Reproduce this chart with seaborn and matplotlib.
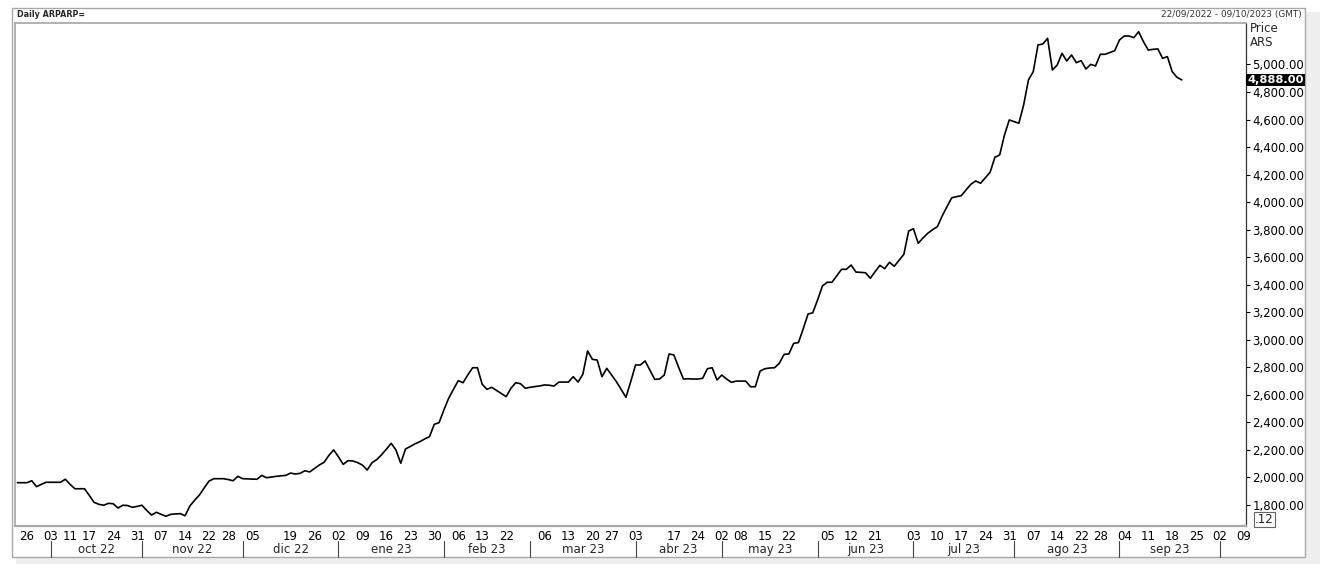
import numpy as np
import pandas as pd
import seaborn as sns
import matplotlib.pyplot as plt
from matplotlib.patches import Rectangle
from matplotlib.transforms import blended_transform_factory

# ARS price, one value per trading day starting 22/09/2022
prices = [
    1962, 1962, 1962, 1976, 1933, 1950, 1965, 1965, 1965, 1965,
    1987, 1950, 1918, 1918, 1918, 1870, 1819, 1805, 1798, 1812,
    1809, 1778, 1798, 1796, 1783, 1790, 1798, 1760, 1727, 1747,
    1732, 1718, 1732, 1735, 1737, 1722, 1793, 1835, 1873, 1925,
    1974, 1991, 1991, 1991, 1985, 1976, 2008, 1991, 1990, 1988,
    1987, 2015, 1998, 2003, 2008, 2012, 2015, 2032, 2025, 2030,
    2049, 2040, 2065, 2090, 2110, 2160, 2200, 2150, 2095, 2122,
    2120, 2108, 2090, 2054, 2107, 2130, 2165, 2205, 2248, 2200,
    2103, 2207, 2225, 2245, 2260, 2280, 2296, 2386, 2398, 2490,
    2575, 2640, 2703, 2688, 2745, 2797, 2797, 2677, 2640, 2655,
    2632, 2610, 2587, 2648, 2688, 2681, 2648, 2655, 2660, 2665,
    2672, 2670, 2664, 2693, 2693, 2693, 2732, 2693, 2749, 2919,
    2858, 2853, 2732, 2793, 2745, 2696, 2640, 2582, 2696, 2817,
    2817, 2846, 2780, 2713, 2715, 2744, 2897, 2890, 2800, 2715,
    2717, 2715, 2715, 2720, 2790, 2797, 2708, 2744, 2715, 2691,
    2700, 2700, 2700, 2659, 2659, 2773, 2790, 2795, 2797, 2829,
    2894, 2897, 2974, 2980, 3080, 3187, 3197, 3290, 3391, 3418,
    3418, 3465, 3512, 3512, 3543, 3492, 3490, 3487, 3447, 3495,
    3541, 3517, 3563, 3534, 3578, 3621, 3790, 3807, 3701, 3740,
    3774, 3800, 3822, 3900, 3967, 4032, 4040, 4047, 4090, 4130,
    4154, 4137, 4177, 4217, 4326, 4343, 4488, 4597, 4585, 4573,
    4706, 4887, 4948, 5142, 5149, 5190, 4960, 4996, 5081, 5025,
    5069, 5013, 5028, 4967, 5001, 4989, 5074, 5074, 5087, 5100,
    5178, 5207, 5207, 5195, 5238, 5166, 5105, 5110, 5113, 5045,
    5057, 4948, 4907, 4888,
]

# non-trading weekdays (Argentine holidays)
holidays = [
    "2022-10-07", "2022-10-10", "2022-11-21", "2022-12-08", "2022-12-09",
    "2023-02-20", "2023-02-21", "2023-03-24", "2023-04-06", "2023-04-07",
    "2023-05-01", "2023-05-25", "2023-05-26", "2023-06-19", "2023-06-20",
    "2023-08-21",
]

day_labels = [
    "2022-09-26", "2022-10-03", "2022-10-11", "2022-10-17", "2022-10-24",
    "2022-10-31", "2022-11-07", "2022-11-14", "2022-11-22", "2022-11-28",
    "2022-12-05", "2022-12-19", "2022-12-26", "2023-01-02", "2023-01-09",
    "2023-01-16", "2023-01-23", "2023-01-30", "2023-02-06", "2023-02-13",
    "2023-02-22", "2023-03-06", "2023-03-13", "2023-03-20", "2023-03-27",
    "2023-04-03", "2023-04-17", "2023-04-24", "2023-05-02", "2023-05-08",
    "2023-05-15", "2023-05-22", "2023-06-05", "2023-06-12", "2023-06-21",
    "2023-07-03", "2023-07-10", "2023-07-17", "2023-07-24", "2023-07-31",
    "2023-08-07", "2023-08-14", "2023-08-22", "2023-08-28", "2023-09-04",
    "2023-09-11", "2023-09-18", "2023-09-25", "2023-10-02", "2023-10-09",
]

month_names = ["oct 22", "nov 22", "dic 22", "ene 23", "feb 23", "mar 23",
               "abr 23", "may 23", "jun 23", "jul 23", "ago 23", "sep 23"]

price_ticks = list(range(1800, 5001, 200))

W, H = 1320, 564


def fx(px):
    return px / W


def fy(py):
    return 1 - py / H


sns.set_theme(style="white")
plt.rcParams["font.family"] = ["DejaVu Sans"]

calendar = pd.bdate_range("2022-09-22", "2023-10-09", freq="C", holidays=holidays)
pos = pd.Series(np.arange(len(calendar)), index=calendar)
df = pd.DataFrame({"pos": pos.values[:len(prices)], "price": prices})

fig = plt.figure(figsize=(W / 100, H / 100), dpi=100)
fig.patch.set_facecolor("white")

# panel with a light shadow on the right/bottom (drawn behind the axes)
fig.patches.append(Rectangle((fx(16), fy(564)), fx(1304), 552 / H, transform=fig.transFigure,
                             facecolor="#eeeeee", edgecolor="none", zorder=-2))
fig.patches.append(Rectangle((fx(12), fy(557)), fx(1293), 549 / H, transform=fig.transFigure,
                             facecolor="white", edgecolor="#a8a8a8", lw=1, zorder=-1))

ax = fig.add_axes([fx(15), fy(525.5), (1245.5 - 15) / W, (525.5 - 22.5) / H])
ax.set_facecolor("white")
sns.lineplot(data=df, x="pos", y="price", color="black", linewidth=1.2, ax=ax)

ax.set_xlim(-0.5, 256.3)
ax.set_ylim(1651, 5305)
ax.set_xlabel("")
ax.set_ylabel("")

# price axis on the right
ax.yaxis.tick_right()
ax.set_yticks(price_ticks)
ax.set_yticklabels([f"{v:,.2f}" for v in price_ticks])
ax.tick_params(axis="y", direction="out", length=3, width=0.8, color="black",
               labelsize=8.5, pad=2, labelcolor="black")

# trading-day axis: weekly labels
major = [pos[pd.Timestamp(d)] for d in day_labels]
week_first = calendar.to_series().groupby(calendar.to_period("W")).first()
minor = [pos[d] for d in week_first if pos[d] not in major]
ax.set_xticks(major)
ax.set_xticklabels([pd.Timestamp(d).strftime("%d") for d in day_labels])
ax.set_xticks(minor, minor=True)
ax.tick_params(axis="x", which="both", direction="out", length=2.5, width=0.8,
               color="#888888", labelsize=8.5, pad=1, labelcolor="black")

for side in ["left", "top", "bottom"]:
    ax.spines[side].set_color("#a8a8a8")
ax.spines["bottom"].set_linewidth(1.6)
ax.spines["right"].set_color("#333333")
ax.spines["right"].set_linewidth(0.9)

# month row with separators
trans = blended_transform_factory(ax.transData, ax.transAxes)
month_first = calendar.to_series().groupby(calendar.to_period("M")).first()
seps = [pos[d] for d in month_first if d >= pd.Timestamp("2022-10-01")]
for p in seps:
    ax.plot([p, p], [-0.031, -0.062], transform=trans, color="#444444", lw=0.8, clip_on=False)
for name, a, b in zip(month_names, seps[:-1], seps[1:]):
    ax.text((a + b) / 2, -0.047, name, transform=trans, ha="center", va="center", fontsize=8.5)

# last price highlight
ytrans = blended_transform_factory(ax.transAxes, ax.transData)
ax.text(1.0015, prices[-1], f"{prices[-1]:,.2f}", transform=ytrans, ha="left", va="center",
        color="white", fontsize=8.2, weight="bold", zorder=10,
        bbox=dict(facecolor="black", edgecolor="none", pad=0.8))

# header
fig.text(fx(17), fy(14.5), "Daily ARPARP=", fontsize=5.8, weight="bold", va="center")
fig.text(fx(1302), fy(14.5), "22/09/2022 - 09/10/2023 (GMT)", fontsize=6.4, color="#333333",
         ha="right", va="center")
fig.text(fx(1250), fy(29), "Price", fontsize=8.5, va="center")
fig.text(fx(1250), fy(43), "ARS", fontsize=8.5, va="center")
fig.text(fx(1255), fy(519.5), ".12", fontsize=8.5, va="center",
         bbox=dict(facecolor="white", edgecolor="#666666", lw=0.8, pad=0.6))

fig.savefig("out.png", dpi=100)
